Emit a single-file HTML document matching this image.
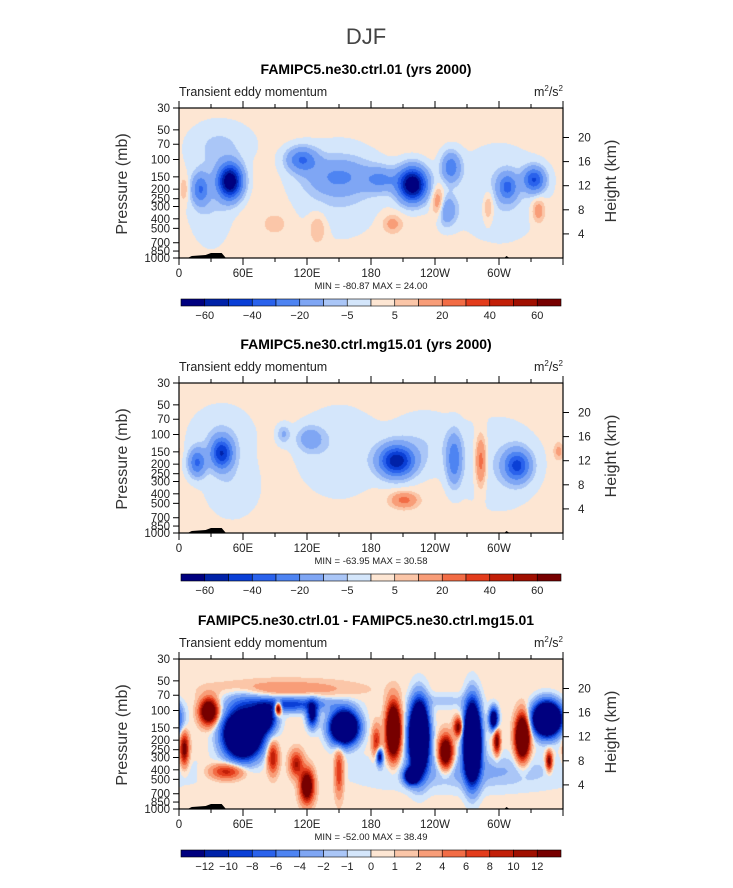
<!DOCTYPE html>
<html><head><meta charset="utf-8">
<style>
body{margin:0;background:#fff;width:733px;height:888px;overflow:hidden;position:relative;font-family:"Liberation Sans",sans-serif}
canvas{position:absolute}
svg{position:absolute;left:0;top:0}
</style></head>
<body>
<canvas id="c0" width="384" height="150" style="left:179px;top:108px"></canvas>
<canvas id="c1" width="384" height="150" style="left:179px;top:383px"></canvas>
<canvas id="c2" width="384" height="150" style="left:179px;top:659px"></canvas>
<svg id="ov" width="733" height="888"></svg>
<script>
const colors=["#00007f","#0022a8","#0a3fd6","#2a62ec","#4e84f2","#7fa6f4","#aac6f7","#d4e6fb","#fde6d3","#fbc6a8","#f89d78","#f26c45","#e33c1c","#c21f08","#a00f00","#770000"];
const bounds12=[-60,-50,-40,-30,-20,-10,-5,0,5,10,20,30,40,50,60];
const labels12=["-60","-40","-20","-5","5","20","40","60"];
const bounds3=[-12,-10,-8,-6,-4,-2,-1,0,1,2,4,6,8,10,12];
const labels3=["-12","-10","-8","-6","-4","-2","-1","0","1","2","4","6","8","10","12"];
const titles=["FAMIPC5.ne30.ctrl.01 (yrs 2000)","FAMIPC5.ne30.ctrl.mg15.01 (yrs 2000)","FAMIPC5.ne30.ctrl.01 - FAMIPC5.ne30.ctrl.mg15.01"];
const minmax=["MIN = -80.87   MAX =  24.00","MIN = -63.95   MAX =  30.58","MIN = -52.00   MAX =  38.49"];
const pTicks=[30,50,70,100,150,200,250,300,400,500,700,850,1000];
const hTicks=[4,8,12,16,20];
const lonLabels=["0","60E","120E","180","120W","60W"];
const lonTicks=[0,60,120,180,240,300];
const bg=[2,2,0.5];
// panel 1 features
const p1Lon=[48,20,115,150,190,219,255,250,308,333,243,290,337,90,130,200,40,150,300,30,5];
const p1Pres=[167,200,100,150,160,180,120,330,190,160,280,300,330,450,500,450,70,200,220,250,200];
const p1Amp=[-75,-28,-30,-18,-20,-78,-28,-22,-30,-40,22,13,15,8,10,12,-7,-7,-7,-7,10];
const p1Wl=[11,8,14,30,15,13,9,10,9,10,6,5,6,10,8,9,30,40,40,20,4];
const p1Wy=[.11,.1,.08,.12,.08,.11,.1,.1,.09,.08,.1,.1,.08,.06,.1,.06,.15,.3,.3,.3,.08];
// panel 2 features
const p2Lon=[40,17,98,123,204,258,283,317,211,356,300,150,40,230,50];
const p2Pres=[155,193,99,111,186,180,186,207,463,148,200,150,100,120,350];
const p2Amp=[-48,-32,-12,-16,-58,-28,26,-42,22,12,-6,-6,-6,-6,-6];
const p2Wl=[10,8,6,12,16,7,5,12,12,5,40,40,30,30,25];
const p2Wy=[.1,.09,.06,.08,.1,.16,.16,.1,.05,.06,.3,.3,.2,.2,.2];
// panel 3 features
const p3Lon=[28,5,60,80,100,93,88,45,120,110,150,155,125,201,185,188,225,218,250,262,275,298,295,322,345,347,270,100,60,250];
const p3Pres=[102,247,173,122,86,95,300,416,584,351,416,148,110,160,207,293,186,463,266,148,207,207,122,186,122,326,416,61,70,80];
const p3Amp=[22,14,-42,-20,-10,22,10,9,20,10,8,-36,-15,32,8,-15,-48,-25,22,14,-48,14,-20,32,-42,14,-3,3,-2,-2];
const p3Wl=[8,4,16,10,40,3,5,15,6,6,4,12,5,6,4,3,8,6,6,4,7,3,4,6,12,3,90,60,20,25];
const p3Wy=[.08,.1,.14,.08,.05,.04,.1,.05,.1,.08,.15,.1,.08,.16,.1,.05,.2,.05,.1,.06,.22,.08,.07,.13,.1,.06,.12,.06,.05,.05];

const W=384,H=150;
function fracOfP(p){return Math.log10(p/30)/Math.log10(1000/30);}
function yOfP(p,top){return top+H*fracOfP(p);}
function xOfLon(l,left){return left+W*l/360;}
function colorFor(v,b){let i=0;while(i<b.length&&v>=b[i])i++;return colors[i];}
function hex(c){return [parseInt(c.substr(1,2),16),parseInt(c.substr(3,2),16),parseInt(c.substr(5,2),16)];}
const sets=[[p1Lon,p1Pres,p1Amp,p1Wl,p1Wy,bounds12],[p2Lon,p2Pres,p2Amp,p2Wl,p2Wy,bounds12],[p3Lon,p3Pres,p3Amp,p3Wl,p3Wy,bounds3]];
sets.forEach((s,k)=>{
  const [L,P,A,WL,WY,B]=s;
  const cv=document.getElementById('c'+k),ctx=cv.getContext('2d');
  const img=ctx.createImageData(W,H);
  const fy=P.map(fracOfP);
  for(let j=0;j<H;j++){const f=(j+.5)/H;
    for(let i=0;i<W;i++){const lon=(i+.5)*360/W;let v=bg[k];
      for(let n=0;n<L.length;n++){let dl=lon-L[n];if(dl>180)dl-=360;if(dl<-180)dl+=360;
        const a=dl/WL[n],b=(f-fy[n])/WY[n];const e=a*a+b*b;if(e<12)v+=A[n]*Math.exp(-e);}
      const c=hex(colorFor(v,B));const o=(j*W+i)*4;img.data[o]=c[0];img.data[o+1]=c[1];img.data[o+2]=c[2];img.data[o+3]=255;}}
  ctx.putImageData(img,0,0);
});
const ov=document.getElementById('ov');const NS="http://www.w3.org/2000/svg";
function mk(t,at,txt){const e=document.createElementNS(NS,t);for(const k in at)e.setAttribute(k,at[k]);if(txt!==undefined)e.textContent=txt;ov.appendChild(e);return e;}
let e=mk('text',{x:366,y:44,'text-anchor':'middle','font-size':22,fill:'#444','font-weight':'300'},'DJF');


const tops=[108,383,659];
tops.forEach((top,k)=>{
  const left=179,right=563,bot=top+H;
  e=mk('text',{x:366,y:top-34,'text-anchor':'middle','font-size':14,'font-weight':'bold'},titles[k]);
  
  
  e=mk('text',{x:179,y:top-12,'font-size':12.5,fill:'#222','font-weight':'300'},'Transient eddy momentum');
  
  
  e=mk('text',{x:563,y:top-12,'text-anchor':'end','font-size':12.5,fill:'#222'},'m');
  const ts=document.createElementNS(NS,'tspan');ts.setAttribute('dy',-5);ts.setAttribute('font-size',8);ts.textContent='2';e.appendChild(ts);
  const t2=document.createElementNS(NS,'tspan');t2.setAttribute('dy',5);t2.textContent='/s';e.appendChild(t2);
  const t3=document.createElementNS(NS,'tspan');t3.setAttribute('dy',-5);t3.setAttribute('font-size',8);t3.textContent='2';e.appendChild(t3);
  
  
  e=mk('path',{d:`M${xOfLon(8,left)},${bot} L${xOfLon(12,left)},${bot-2} L${xOfLon(25,left)},${bot-3} L${xOfLon(30,left)},${bot-5} L${xOfLon(40,left)},${bot-5} L${xOfLon(44,left)},${bot} Z M${xOfLon(305,left)},${bot} L${xOfLon(307,left)},${bot-2} L${xOfLon(310,left)},${bot} Z`,fill:'#000'});
  
  
  e=mk('rect',{x:left,y:top,width:W,height:H,fill:'none',stroke:'#000','stroke-width':1.2});
  
  
  for(let l=0;l<=360;l+=30){const x=xOfLon(l,left),len=l%60==0?7:4;
    mk('line',{x1:x,x2:x,y1:top,y2:top-len,stroke:'#000'});mk('line',{x1:x,x2:x,y1:bot,y2:bot+len,stroke:'#000'});}
  lonTicks.forEach((l,i)=>{e=mk('text',{x:xOfLon(l,left),y:bot+19,'text-anchor':'middle','font-size':11.5,fill:'#222'},lonLabels[i]);
    
    });
  e=mk('text',{x:371,y:bot+31,'text-anchor':'middle','font-size':9.5,fill:'#222','xml:space':'preserve'},minmax[k]);
  
  
  pTicks.forEach(p=>{const y=yOfP(p,top);mk('line',{x1:left,x2:left-6,y1:y,y2:y,stroke:'#000'});
    e=mk('text',{x:left-9,y:y+4,'text-anchor':'end','font-size':11.5,fill:'#222'},String(p));
    
    });
  hTicks.forEach(h=>{const p=1000*Math.exp(-h/7.1);const y=yOfP(p,top);mk('line',{x1:right,x2:right+6,y1:y,y2:y,stroke:'#000'});
    e=mk('text',{x:right+15,y:y+4,'font-size':11.5,fill:'#222'},String(h));
    
    });
  e=mk('text',{x:0,y:0,'font-size':16,fill:'#333','text-anchor':'middle',transform:`translate(127,${top+76}) rotate(-90)`},'Pressure (mb)');
  
  
  e=mk('text',{x:0,y:0,'font-size':16,fill:'#333','text-anchor':'middle',transform:`translate(616,${top+73}) rotate(-90)`},'Height (km)');
  
  
  const cy=top+191,cx=181,bw=380/16;
  for(let i=0;i<16;i++){e=mk('rect',{x:cx+i*bw,y:cy,width:bw,height:7,fill:colors[i],stroke:'#000','stroke-width':0.6});
    
    }
  const labs=k<2?labels12:labels3,step=k<2?2:1;
  labs.forEach((t,i)=>{e=mk('text',{x:cx+(1+i*step)*bw,y:cy+20,'text-anchor':'middle','font-size':11,fill:'#222'},t.replace('-','\u2212'));
    
    });
});
</script>
</body></html>
